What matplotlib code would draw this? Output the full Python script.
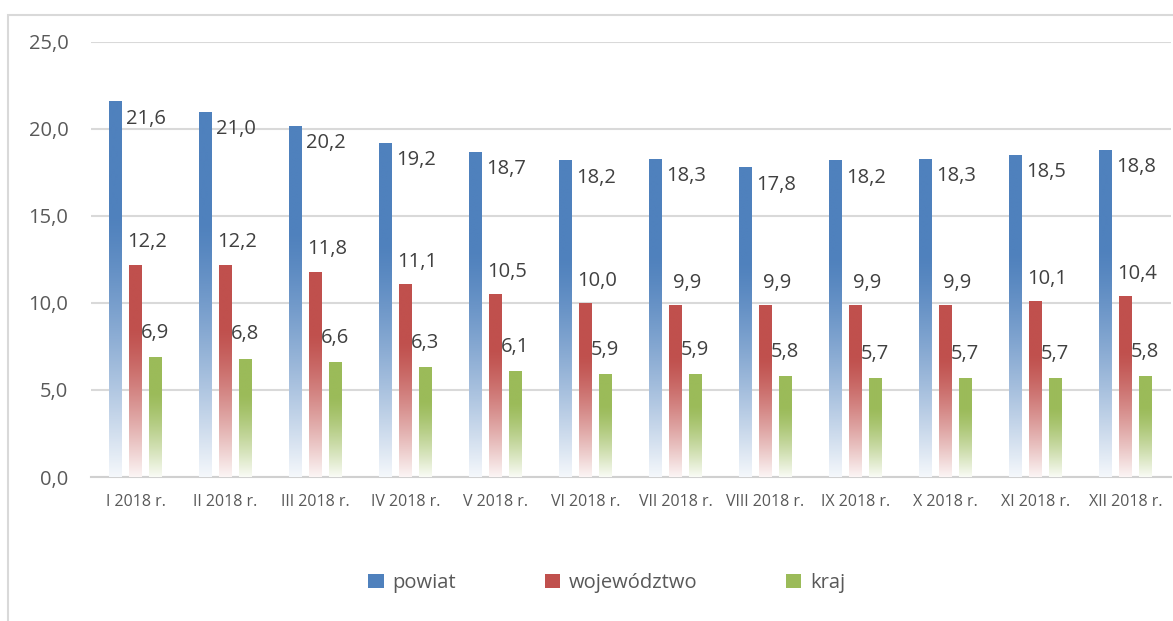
import numpy as np
import matplotlib
matplotlib.use("Agg")
import matplotlib.pyplot as plt
from matplotlib.colors import to_rgb
from matplotlib.patches import Rectangle, Patch

plt.rcParams['font.family'] = ['Open Sans', 'DejaVu Sans']

# data
months = ["I 2018 r.", "II 2018 r.", "III 2018 r.", "IV 2018 r.", "V 2018 r.", "VI 2018 r.",
          "VII 2018 r.", "VIII 2018 r.", "IX 2018 r.", "X 2018 r.", "XI 2018 r.", "XII 2018 r."]
powiat = [21.6, 21.0, 20.2, 19.2, 18.7, 18.2, 18.3, 17.8, 18.2, 18.3, 18.5, 18.8]
wojewodztwo = [12.2, 12.2, 11.8, 11.1, 10.5, 10.0, 9.9, 9.9, 9.9, 9.9, 10.1, 10.4]
kraj = [6.9, 6.8, 6.6, 6.3, 6.1, 5.9, 5.9, 5.8, 5.7, 5.7, 5.7, 5.8]
series_names = ["powiat", "województwo", "kraj"]
colors = ["#4f81bd", "#c0504d", "#9bbb59"]

def fmt(v):
    return f"{v:.1f}".replace(".", ",")

def gradient_img(color, n=200):
    c = np.array(to_rgb(color))
    t = np.linspace(0, 1, n)[:, None]          # 0 = top, 1 = bottom
    w = np.clip((t - 0.3) / 0.7, 0, 1) ** 1.3 * 0.94
    img = c * (1 - w) + np.ones(3) * w
    return img[:, None, :]

fig = plt.figure(figsize=(11.73, 6.21), dpi=100)
# chart border (extends past the right/bottom edges)
fig.patches.append(Rectangle((8 / 1173, -0.1), 1.2, 1 - 15 / 621 + 0.1,
                             transform=fig.transFigure, fill=False,
                             edgecolor="#d9d9d9", linewidth=1.5))

ax = fig.add_axes([90.5 / 1173, 1 - 477 / 621, 1080 / 1173, 435 / 621])
x = np.arange(len(months))
width = 0.14
offsets = [-0.22, 0.0, 0.22]
lab_fs = 14.5

all_series = [powiat, wojewodztwo, kraj]
for k, (vals, col) in enumerate(zip(all_series, colors)):
    bars = ax.bar(x + offsets[k], vals, width, color="none", edgecolor="none", zorder=3)
    for b, v in zip(bars, vals):
        x0 = b.get_x()
        im = ax.imshow(gradient_img(col), extent=[x0, x0 + width, 0, v],
                       aspect="auto", zorder=3, interpolation="bilinear")
        im.set_clip_path(b)
        if k == 0:
            ax.annotate(fmt(v), (x0 + width, v), xytext=(3, -12.5),
                        textcoords="offset points", ha="left", va="center",
                        fontsize=lab_fs, color="#404040", zorder=4)
        elif k == 1:
            ax.annotate(fmt(v), (x0 + width / 2, v), xytext=(8.5, 16),
                        textcoords="offset points", ha="center", va="center",
                        fontsize=lab_fs, color="#404040", zorder=4)
        else:
            ax.annotate(fmt(v), (x0 + width / 2, v), xytext=(0, 17.5),
                        textcoords="offset points", ha="center", va="center",
                        fontsize=lab_fs, color="#404040", zorder=4)

ax.set_xlim(-0.5, len(months) - 0.5)
ax.set_ylim(0, 25)
ax.set_yticks(np.arange(0, 26, 5))
ax.set_yticklabels([fmt(t) for t in np.arange(0, 26, 5)], fontsize=14.5, color="#595959")
ax.set_xticks(x)
ax.set_xticklabels(months, fontsize=11.5, color="#595959")
ax.tick_params(axis="both", length=0)
ax.tick_params(axis="y", pad=16)
ax.tick_params(axis="x", pad=12)
ax.yaxis.grid(True, color="#d9d9d9", linewidth=1.5, zorder=0)
ax.set_axisbelow(True)
for s in ["top", "right", "left"]:
    ax.spines[s].set_visible(False)
ax.spines["bottom"].set_color("#d0d0d0")
ax.spines["bottom"].set_linewidth(1.5)

handles = [Patch(facecolor=c, edgecolor="none") for c in colors]
fig.legend(handles, series_names, loc="center", bbox_to_anchor=(607 / 1173, 1 - 583 / 621),
           ncol=3, frameon=False, fontsize=14.5, labelcolor="#595959",
           handlelength=0.75, handleheight=0.75, handletextpad=0.45, columnspacing=4.4)

fig.savefig("out.png", dpi=100)
